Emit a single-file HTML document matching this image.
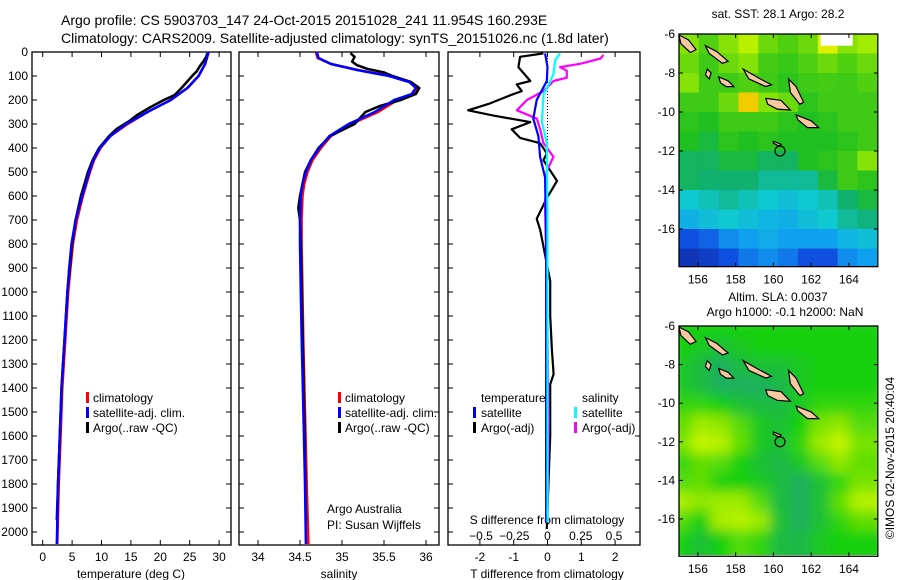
<!DOCTYPE html>
<html><head><meta charset="utf-8"><style>
body{margin:0;background:#fff;}
svg{display:block;font-family:"Liberation Sans",sans-serif;}
text{font-size:12px;fill:#000;}
</style></head><body>
<svg id="fig" width="900" height="580" viewBox="0 0 900 580" xmlns="http://www.w3.org/2000/svg">
<defs>
<filter id="blur" x="0" y="0" width="1" height="1"><feGaussianBlur stdDeviation="6"/></filter>
<clipPath id="clipM1"><rect x="679" y="34" width="198" height="232"/></clipPath>
<clipPath id="clipM2"><rect x="679" y="326" width="198" height="229"/></clipPath>
</defs>
<text x="61" y="25" style="font-size:14px">Argo profile: CS 5903703_147 24-Oct-2015 20151028_241 11.954S 160.293E</text>
<text x="61" y="43" style="font-size:14px">Climatology: CARS2009. Satellite-adjusted climatology: synTS_20151026.nc (1.8d later)</text>
<g id="g"></g>
</svg>
<script>
// ---- profile data ----
const depthsT = [0,50,100,150,200,250,300,350,400,450,500,600,700,800,900,1000,1200,1400,1600,1800,2000,2050];
const climT = [28.1,27.5,26.4,24.5,21.6,17.7,14.3,11.4,9.7,8.6,7.9,6.7,5.7,5.0,4.6,4.2,3.7,3.2,2.9,2.6,2.4,2.35];
const satT = [28.2,27.6,26.5,24.6,21.8,17.8,14.2,11.5,9.7,8.6,7.9,6.7,5.6,4.9,4.5,4.2,3.7,3.2,2.9,2.6,2.45,2.4];
const argoDepthT = [5,20,40,60,80,100,120,150,180,200,230,260,290,320,350,400,450,500,600,700,800,900,1000,1200,1400,1600,1800,1950];
const argoT = [28.0,27.8,27.3,26.7,26.2,25.4,24.7,23.6,22.4,20.6,18.3,16.2,14.6,12.6,11.3,9.6,8.5,7.7,6.5,5.6,5.0,4.6,4.2,3.7,3.2,2.9,2.6,2.4];
const depthsS = [0,25,50,75,100,125,150,175,200,250,300,350,400,450,500,550,600,700,800,1000,1200,1500,1800,2050];
const climS = [34.68,34.7,34.86,35.18,35.57,35.81,35.9,35.85,35.65,35.42,35.1,34.86,34.74,34.64,34.58,34.54,34.52,34.51,34.51,34.52,34.53,34.55,34.57,34.59];
const satS = [34.70,34.72,34.87,35.18,35.56,35.8,35.88,35.83,35.62,35.39,35.08,34.85,34.73,34.63,34.57,34.53,34.51,34.5,34.5,34.51,34.52,34.54,34.56,34.57];
const argoDepthS = [5,20,40,55,70,85,100,125,150,175,200,225,250,300,350,400,450,500,600,650,700,800,1000,1500,1950];
const argoS = [35.1,35.15,35.12,35.18,35.3,35.5,35.6,35.82,35.92,35.88,35.7,35.45,35.28,35.15,34.86,34.72,34.63,34.56,34.5,34.48,34.5,34.51,34.52,34.55,34.57];
// ---- difference data ----
const dDepthArgoT = [6,20,63,121,135,163,178,214,243,265,292,322,358,380,422,451,537,609,695,739,882,954,1098,1241,1342,1385,1600,1988];
const dArgoT = [-0.12,-0.81,-0.86,-0.51,-0.91,-0.76,-1.06,-1.7,-2.35,-1.6,-0.51,-1.06,-0.81,-0.22,-0.02,-0.12,0.28,-0.02,-0.32,-0.22,-0.02,0.08,0.08,0.13,0.18,0.08,0.08,-0.02];
const dDepthSatT = [6,63,121,200,278,351,437,523,810,1960];
const dSatT = [-0.07,0,-0.02,-0.32,-0.42,-0.27,-0.22,-0.07,-0.04,-0.04];
const dDepthArgoS = [12,27,49,63,78,107,121,163,200,243,278,322,380,437,494,638,954,1529,1960];
const dArgoS = [0.42,0.40,0.245,0.095,0.145,0.145,0.045,-0.03,-0.155,-0.23,-0.08,-0.055,-0.03,0.045,-0.005,-0.018,-0.005,0.008,0];
const dDepthSatS = [6,34,92,135,178,292,380,666,1960];
const dSatS = [0.095,0.058,0.045,0.008,-0.03,-0.042,-0.005,0,0];
// ---- axis tick labels ----
const depthTicks = [0,100,200,300,400,500,600,700,800,900,1000,1100,1200,1300,1400,1500,1600,1700,1800,1900,2000];
const tTicks = [0,5,10,15,20,25,30];
const sTicks = [34,34.5,35,35.5,36];
const tdTicks = [-2,-1,0,1,2];
const sdTicks = [-0.5,-0.25,0,0.25,0.5];
const lonTicks = [156,158,160,162,164];
const latTicks = [-6,-8,-10,-12,-14,-16];
// ---- map grids (rows: -6..-18 lat, cols: 155..165.5 lon) ----
const sstGrid = [
[.62,.58,.62,.66,.60,.58,.60,.70,.62,.64],
[.60,.55,.60,.62,.56,.54,.58,.60,.58,.60],
[.62,.55,.55,.58,.55,.52,.55,.56,.55,.58],
[.55,.55,.60,.75,.62,.60,.52,.55,.55,.55],
[.52,.50,.55,.55,.55,.52,.50,.52,.55,.55],
[.50,.48,.52,.50,.52,.50,.50,.50,.52,.55],
[.46,.46,.48,.48,.46,.46,.50,.52,.55,.62],
[.46,.45,.45,.45,.42,.42,.42,.48,.55,.52],
[.38,.40,.42,.40,.38,.36,.38,.40,.45,.48],
[.33,.36,.38,.36,.34,.33,.36,.38,.42,.44],
[.22,.24,.28,.30,.32,.30,.30,.30,.34,.36],
[.16,.18,.22,.26,.28,.26,.22,.22,.28,.30]];
const slaGrid = [
[.5,.5,.5,.5,.5,.5,.5,.5,.5,.5],
[.5,.48,.46,.48,.5,.5,.5,.5,.5,.5],
[.48,.45,.42,.45,.46,.46,.48,.5,.5,.5],
[.48,.45,.42,.42,.42,.44,.48,.5,.5,.5],
[.52,.52,.5,.46,.45,.45,.48,.52,.52,.52],
[.56,.62,.6,.55,.48,.46,.5,.58,.6,.55],
[.58,.68,.66,.56,.48,.46,.52,.62,.68,.58],
[.52,.56,.55,.5,.46,.44,.48,.55,.6,.56],
[.55,.56,.5,.5,.48,.45,.42,.46,.52,.58],
[.64,.6,.62,.62,.55,.45,.42,.46,.56,.66],
[.55,.5,.64,.66,.62,.46,.42,.46,.52,.56],
[.5,.46,.5,.55,.52,.45,.44,.48,.5,.5]];
const islands = [
[[155.0,-6.05],[155.5,-6.3],[155.9,-6.8],[155.6,-6.95],[155.1,-6.5]],
[[156.4,-6.6],[157.0,-6.9],[157.6,-7.4],[157.3,-7.5],[156.6,-7.0]],
[[158.4,-7.8],[159.3,-8.3],[159.9,-8.6],[159.6,-8.7],[158.7,-8.3]],
[[160.8,-8.3],[161.2,-8.7],[161.6,-9.5],[161.4,-9.6],[160.9,-9.0]],
[[159.6,-9.3],[160.4,-9.4],[160.9,-9.9],[160.2,-9.85],[159.7,-9.6]],
[[161.2,-10.15],[162.0,-10.45],[162.4,-10.8],[161.8,-10.8],[161.3,-10.4]],
[[157.1,-8.2],[157.6,-8.4],[157.9,-8.7],[157.5,-8.7],[157.2,-8.5]],
[[156.5,-7.8],[156.7,-8.0],[156.6,-8.3],[156.4,-8.1]],
[[160.0,-11.5],[160.4,-11.65],[160.3,-11.75],[160.0,-11.6]]];

const NS='http://www.w3.org/2000/svg';
const G=document.getElementById('g');
function mk(tag,attrs,parent){const e=document.createElementNS(NS,tag);for(const k in attrs)e.setAttribute(k,attrs[k]);(parent||G).appendChild(e);return e;}
function txt(x,y,s,anchor,parent){const t=mk('text',{x:x,y:y,'text-anchor':anchor||'start'},parent);t.textContent=s;return t;}

const TOP=52,BOT=545;
const yD=d=>TOP+d*0.24;
const xT=v=>42.7+v*5.88;
const xS=v=>258+(v-34)*84;
const xTD=v=>547.5+v*33.8;
const xSD=v=>547.5+v*133;

function frame(x0,x1,name,leftLabels){
  const r=mk('rect',{x:x0,y:TOP,width:x1-x0,height:BOT-TOP,fill:'none',stroke:'#000','stroke-width':1.3});
  
  
  depthTicks.forEach(d=>{
    mk('line',{x1:x0,x2:x0+5,y1:yD(d),y2:yD(d),stroke:'#000'});
    mk('line',{x1:x1,x2:x1-5,y1:yD(d),y2:yD(d),stroke:'#000'});
    if(leftLabels){const t=txt(x0-4,yD(d)+4,String(d),'end');
      
      }
  });
}
function xticks(vals,fx,x0,labels){
  vals.forEach(v=>{const x=fx(v);
    mk('line',{x1:x,x2:x,y1:BOT,y2:BOT-5,stroke:'#000'});
    mk('line',{x1:x,x2:x,y1:TOP,y2:TOP+5,stroke:'#000'});
    if(labels){const t=txt(x,561,String(v),'middle');
      
      }
  });
}
function line(xs,ds,fx,color,name,w){
  const pts=xs.map((v,i)=>fx(v).toFixed(1)+','+yD(ds[i]).toFixed(1)).join(' ');
  const p=mk('polyline',{points:pts,fill:'none',stroke:color,'stroke-width':w||2.5,'stroke-linejoin':'round'});
  
  
}
// Panel 1
frame(32,231,'temperature-panel',true);
xticks(tTicks,xT,32,true);
line(climT,depthsT,v=>xT(v)+0.8,'#f00','climatology-temperature-line');
line(argoT,argoDepthT,xT,'#000','argo-temperature-line');
line(satT,depthsT,xT,'#00f','satellite-temperature-line');
let t=txt(131,578,'temperature (deg C)','middle');


// Panel 2
frame(239,439,'salinity-panel',false);
xticks(sTicks,xS,239,true);
line(climS,depthsS,v=>xS(v)+0.8,'#f00','climatology-salinity-line');
line(argoS,argoDepthS,xS,'#000','argo-salinity-line');
line(satS,depthsS,xS,'#00f','satellite-salinity-line');
t=txt(339,578,'salinity','middle');


t=txt(327,513,'Argo Australia');


t=txt(327,529,'PI: Susan Wijffels');


// legends panel 1,2
[[86,'temperature-legend'],[338,'salinity-legend']].forEach(([lx,nm])=>{
  [['#f00','climatology'],['#00f','satellite-adj. clim.'],['#000','Argo(..raw -QC)']].forEach((e,i)=>{
    const y=402+i*15;
    const b=mk('rect',{x:lx,y:y-10,width:3,height:11,fill:e[0]});
    
    
    const tt=txt(lx+7,y,e[1]);
    
    
  });
});
// Panel 3
frame(448,640,'difference-panel',false);
xticks(tdTicks,xTD,448,true);
sdTicks.forEach(v=>{const tt=txt(xSD(v),540,String(v).replace('-','\u2212'),'middle');
  
  });
t=txt(547,524,'S difference from climatology','middle');


t=txt(547,578,'T difference from climatology','middle');


const zl=mk('line',{x1:xTD(0),x2:xTD(0),y1:TOP,y2:yD(540),stroke:'#000','stroke-dasharray':'1,2'});


line(dArgoT,dDepthArgoT,xTD,'#000','argo-temp-diff-line',2.2);
line(dArgoS,dDepthArgoS,xSD,'#f0f','argo-sal-diff-line',2.2);
line(dSatT,dDepthSatT,xTD,'#00f','sat-temp-diff-line',2.2);
line(dSatS,dDepthSatS,xSD,'#0ff','sat-sal-diff-line',2.2);
t=txt(481,402,'temperature');
t=txt(582,402,'salinity');
[[473,'#00f','satellite',417],[473,'#000','Argo(-adj)',432],[574,'#0ff','satellite',417],[574,'#f0f','Argo(-adj)',432]].forEach(e=>{
  const b=mk('rect',{x:e[0],y:e[3]-10,width:3,height:11,fill:e[1]});
  
  
  const tt=txt(e[0]+8,e[3],e[2]);
  
  
});
// ---- maps ----
function lerpColor(stops,v){
  if(v<=stops[0][0])return stops[0][1];
  for(let i=1;i<stops.length;i++){if(v<=stops[i][0]){const a=stops[i-1],b=stops[i];const f=(v-a[0])/(b[0]-a[0]);
    const c=a[1].map((x,k)=>Math.round(x+(b[1][k]-x)*f));return c;}}
  return stops[stops.length-1][1];
}
const sstStops=[[0.15,[16,48,176]],[0.22,[16,80,224]],[0.3,[16,160,240]],[0.38,[16,200,208]],[0.45,[16,176,112]],[0.5,[32,192,32]],[0.58,[80,208,16]],[0.65,[176,240,0]],[0.72,[240,240,0]],[0.8,[240,144,0]]];
const slaStops=[[0.4,[32,168,112]],[0.5,[24,208,16]],[0.6,[144,232,0]],[0.7,[208,248,0]]];
function drawMap(x0,y0,ppLon,ppLat,grid,stops,name,blur,clip){
  const px=lon=>x0+(lon-155)*ppLon, py=lat=>y0+(-6-lat)*ppLat;
  const g=mk('g',{'clip-path':'url(#'+clip+')'});
  
  
  const cells=mk('g',blur?{filter:'url(#blur)'}:{},g);
  const cw=1.05;
  grid.forEach((row,r)=>row.forEach((v,c)=>{
    const c0=lerpColor(stops,v);
    const cell=mk('rect',{x:px(155+c*cw)-(blur?8:0),y:py(-6-r)-(blur?8:0),width:cw*ppLon+1+(blur?16:0),height:ppLat+1+(blur?16:0),fill:'rgb('+c0.join(',')+')'},cells);
    
    
  }));
  if(!blur){const w=mk('rect',{x:px(162.5),y:py(-5.9),width:px(164.2)-px(162.5),height:py(-6.6)-py(-5.9),fill:'#fff'},g);
    }
  islands.forEach(poly=>{
    const p=mk('polygon',{points:poly.map(q=>px(q[0]).toFixed(1)+','+py(q[1]).toFixed(1)).join(' '),fill:'#f8c8a0',stroke:'#000','stroke-width':1.2},g);
    
    
  });
  const c=mk('circle',{cx:px(160.35),cy:py(-12.0),r:5,fill:'none',stroke:'#000','stroke-width':1.2},g);
  
  
  const H=(-6-(-17.93))*ppLat, W=10.53*ppLon;
  const fr=mk('rect',{x:x0,y:y0,width:W,height:H,fill:'none',stroke:'#000','stroke-width':1.3});
  
  
  lonTicks.forEach(l=>{mk('line',{x1:px(l),x2:px(l),y1:y0,y2:y0+4,stroke:'#000'});mk('line',{x1:px(l),x2:px(l),y1:y0+H,y2:y0+H-4,stroke:'#000'});
    const tt=txt(px(l),y0+H+17,String(l),'middle');});
  latTicks.forEach(l=>{mk('line',{x1:x0,x2:x0+4,y1:py(l),y2:py(l),stroke:'#000'});mk('line',{x1:x0+W,x2:x0+W-4,y1:py(l),y2:py(l),stroke:'#000'});
    const tt=txt(x0-4,py(l)+4,String(l),'end');});
}
drawMap(679,34,18.88,19.5,sstGrid,sstStops,'sst-map',false,'clipM1');
drawMap(679,326,18.88,19.3,slaGrid,slaStops,'sla-map',true,'clipM2');
t=txt(778,18,'sat. SST: 28.1 Argo: 28.2','middle');
t=txt(778,301,'Altim. SLA: 0.0037','middle');
t=txt(785,316,'Argo h1000: -0.1 h2000: NaN','middle');
t=txt(0,0,'\u00a9IMOS 02-Nov-2015 20:40:04','middle');
t.setAttribute('transform','translate(894,458) rotate(-90)');

</script>
</body></html>
